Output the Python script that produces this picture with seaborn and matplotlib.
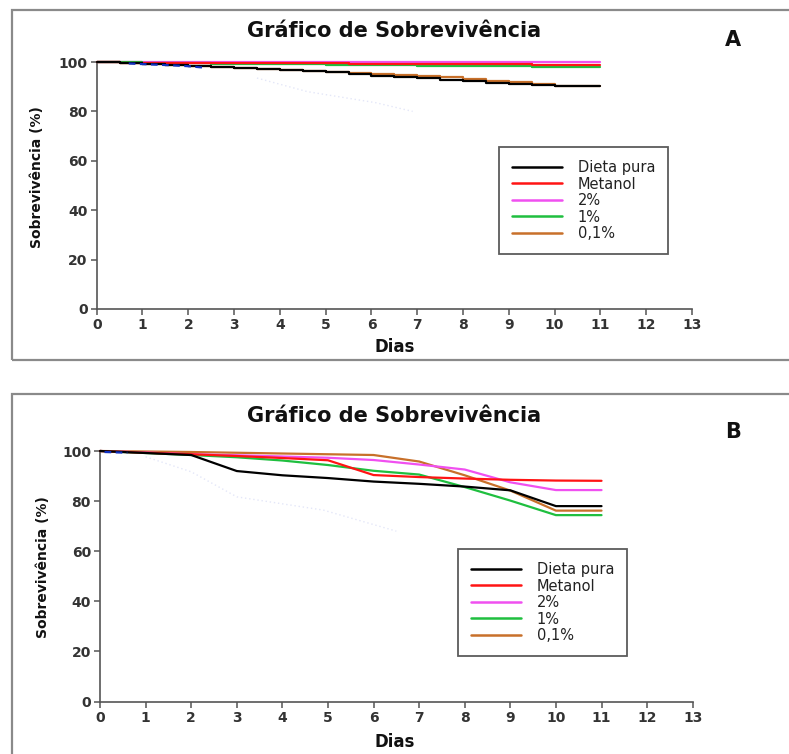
import matplotlib
matplotlib.use("Agg")
import matplotlib.pyplot as plt
import seaborn as sns
import pandas as pd
from matplotlib.patches import Rectangle

# ---------------- data ----------------
series_labels = ["Dieta pura", "Metanol", "2%", "1%", "0,1%"]
series_colors = ["#000000", "#ff1414", "#f050f0", "#1fbf3f", "#c8702a"]

x_ticks = list(range(0, 14))
y_ticks = [0, 20, 40, 60, 80, 100]

# Panel A (Kaplan-Meier style steps)
dias_a = [0, 0.5, 1, 1.5, 2, 2.5, 3, 3.5, 4, 4.5, 5, 5.5, 6, 6.5, 7, 7.5, 8, 8.5, 9, 9.5, 10, 11]
a_dieta = [100, 99.7, 99.3, 98.9, 98.5, 98.0, 97.6, 97.1, 96.7, 96.3, 96.0, 95.2, 94.3, 93.9, 93.4, 92.8, 92.2, 91.7, 91.2, 90.7, 90.2, 90.2]
a_metanol = [100, 99.6, 99.6, 99.6, 99.6, 99.6, 99.6, 99.6, 99.6, 99.6, 99.6, 99.2, 99.2, 99.2, 99.2, 99.2, 99.2, 99.2, 99.2, 98.6, 98.6, 98.6]
a_2pct = [100, 100, 100, 100, 100, 100, 100, 100, 100, 100, 100, 100, 100, 100, 100, 100, 100, 100, 100, 100, 100, 100]
a_1pct = [100, 99.8, 99.6, 99.5, 99.4, 99.2, 99.2, 99.2, 99.2, 99.2, 98.9, 98.9, 98.9, 98.9, 98.5, 98.5, 98.4, 98.4, 98.4, 98.1, 98.1, 98.1]
a_01pct = [100, 99.7, 99.3, 98.9, 98.5, 98.0, 97.6, 97.1, 96.7, 96.3, 96.0, 95.6, 95.2, 94.8, 94.3, 93.8, 93.3, 92.5, 91.8, 91.0, 90.2, 90.2]

# small blue marks visible in the scan (not in legend)
a_blue_dias = [0.7, 1.2, 1.6, 2.0, 2.3]
a_blue_vals = [99.4, 99.0, 98.7, 98.3, 97.8]
a_faint_dias = [3.5, 4.6, 6.1, 6.9]
a_faint_vals = [93.5, 88.0, 83.5, 80.0]

# Panel B
dias_b = [0, 1, 2, 3, 4, 5, 6, 7, 8, 9, 10, 11]
b_dieta = [100, 99.2, 98.4, 92.0, 90.3, 89.2, 87.8, 86.9, 85.8, 84.3, 78.0, 78.0]
b_metanol = [100, 99.3, 98.7, 98.0, 97.2, 96.3, 90.4, 89.6, 89.0, 88.5, 88.2, 88.1]
b_2pct = [100, 99.4, 98.7, 98.3, 97.8, 97.3, 96.4, 94.6, 92.6, 87.5, 84.4, 84.4]
b_1pct = [100, 99.2, 98.4, 97.5, 96.2, 94.4, 92.1, 90.6, 85.6, 80.2, 74.4, 74.4]
b_01pct = [100, 99.8, 99.6, 99.3, 99.0, 98.7, 98.4, 95.8, 90.3, 84.2, 76.2, 76.2]

b_blue_dias = [0.1, 0.6]
b_blue_vals = [99.6, 99.3]
b_faint_dias = [1.0, 2.0, 3.0, 4.9, 6.5]
b_faint_vals = [97.7, 91.7, 81.7, 76.4, 68.0]

titulo = "Gráfico de Sobrevivência"
xlabel = "Dias"
ylabel = "Sobrevivência (%)"

# ---------------- style ----------------
sns.set_style("ticks")
plt.rcParams["font.family"] = ["DejaVu Sans"]

fig = plt.figure(figsize=(7.89, 7.54), dpi=100)

# panel frames
fig.patches.append(Rectangle((12 / 789, 1 - 360 / 754), 1.2, (360 - 10) / 754,
                             transform=fig.transFigure, fill=False,
                             edgecolor="#8a8a8a", linewidth=1.6, clip_on=False))
fig.patches.append(Rectangle((12 / 789, -0.2), 1.2, 0.2 + (1 - 394 / 754),
                             transform=fig.transFigure, fill=False,
                             edgecolor="#8a8a8a", linewidth=1.6, clip_on=False))


def make_df(dias, vals_list):
    rows = []
    for lab, vals in zip(series_labels, vals_list):
        for d, v in zip(dias, vals):
            rows.append({"dia": d, "sobrevivencia": v, "grupo": lab})
    return pd.DataFrame(rows)


df_a = make_df(dias_a, [a_dieta, a_metanol, a_2pct, a_1pct, a_01pct])
df_b = make_df(dias_b, [b_dieta, b_metanol, b_2pct, b_1pct, b_01pct])

zorders = {"Dieta pura": 3.0, "Metanol": 2.8, "2%": 2.6, "1%": 2.7, "0,1%": 2.5}


def draw_panel(ax, df, drawstyle, blue, faint, legend_xy):
    for lab, col in zip(series_labels, series_colors):
        sub = df[df["grupo"] == lab]
        sns.lineplot(data=sub, x="dia", y="sobrevivencia", color=col, linewidth=1.6,
                     drawstyle=drawstyle, ax=ax, label=lab, zorder=zorders[lab],
                     clip_on=False, errorbar=None)
    bd = pd.DataFrame({"dia": blue[0], "v": blue[1]})
    sns.lineplot(data=bd, x="dia", y="v", color="#1030c0", linewidth=1.6,
                 linestyle=(0, (3, 2)), ax=ax, legend=False, zorder=3.2, clip_on=False)
    fd = pd.DataFrame({"dia": faint[0], "v": faint[1]})
    sns.lineplot(data=fd, x="dia", y="v", color="#8090e0", linewidth=1.0, alpha=0.22,
                 linestyle=(0, (1, 2)), ax=ax, legend=False, zorder=1)

    ax.set_xlim(0, 13)
    ax.set_ylim(0, 100)
    ax.set_xticks(x_ticks)
    ax.set_yticks(y_ticks)
    ax.set_xlabel("")
    ax.set_ylabel("")
    sns.despine(ax=ax)
    for s in ["left", "bottom"]:
        ax.spines[s].set_color("#555555")
        ax.spines[s].set_linewidth(1.2)
    ax.tick_params(direction="out", length=4, width=1.1, color="#555555",
                   labelsize=10, labelcolor="#333333", pad=2.5)
    for lbl in ax.get_xticklabels() + ax.get_yticklabels():
        lbl.set_fontweight("bold")

    handles, labels = ax.get_legend_handles_labels()
    order = [labels.index(l) for l in series_labels]
    leg = ax.legend([handles[i] for i in order], [labels[i] for i in order],
                    loc="upper left", bbox_to_anchor=legend_xy,
                    bbox_transform=fig.transFigure, frameon=True, fancybox=False,
                    fontsize=10.5, handlelength=3.4, handletextpad=1.1,
                    labelspacing=0.1, borderpad=0.9, borderaxespad=0)
    leg.get_frame().set_edgecolor("#333333")
    leg.get_frame().set_linewidth(1.3)
    for t in leg.get_texts():
        t.set_color("#222222")
    for h in leg.get_lines():
        h.set_linewidth(1.8)


ax_a = fig.add_axes([96.7 / 789, 1 - 309 / 754, (692 - 96.7) / 789, (309 - 62) / 754])
draw_panel(ax_a, df_a, "steps-post", (a_blue_dias, a_blue_vals),
           (a_faint_dias, a_faint_vals), (499 / 789, 1 - 147 / 754))

ax_b = fig.add_axes([100 / 789, 1 - 701.5 / 754, (692.7 - 100) / 789, (701.5 - 451) / 754])
draw_panel(ax_b, df_b, "default", (b_blue_dias, b_blue_vals),
           (b_faint_dias, b_faint_vals), (458 / 789, 1 - 549 / 754))

# titles, letters, axis labels
for yt, letter, ly, xl_y, yl_x, yl_y in [
        (31, "A", 40, 347, 37, 177),
        (416, "B", 432, 742, 43, 567)]:
    fig.text(394 / 789, 1 - yt / 754, titulo, ha="center", va="center",
             fontsize=15, fontweight="bold", color="#111111")
    fig.text(733 / 789, 1 - ly / 754, letter, ha="center", va="center",
             fontsize=15, fontweight="bold", color="#111111")
    fig.text(395 / 789, 1 - xl_y / 754, xlabel, ha="center", va="center",
             fontsize=12, fontweight="bold", color="#111111")
    fig.text(yl_x / 789, 1 - yl_y / 754, ylabel, ha="center", va="center",
             rotation=90, fontsize=10, fontweight="bold", color="#111111")

fig.savefig("out.png", dpi=100)
